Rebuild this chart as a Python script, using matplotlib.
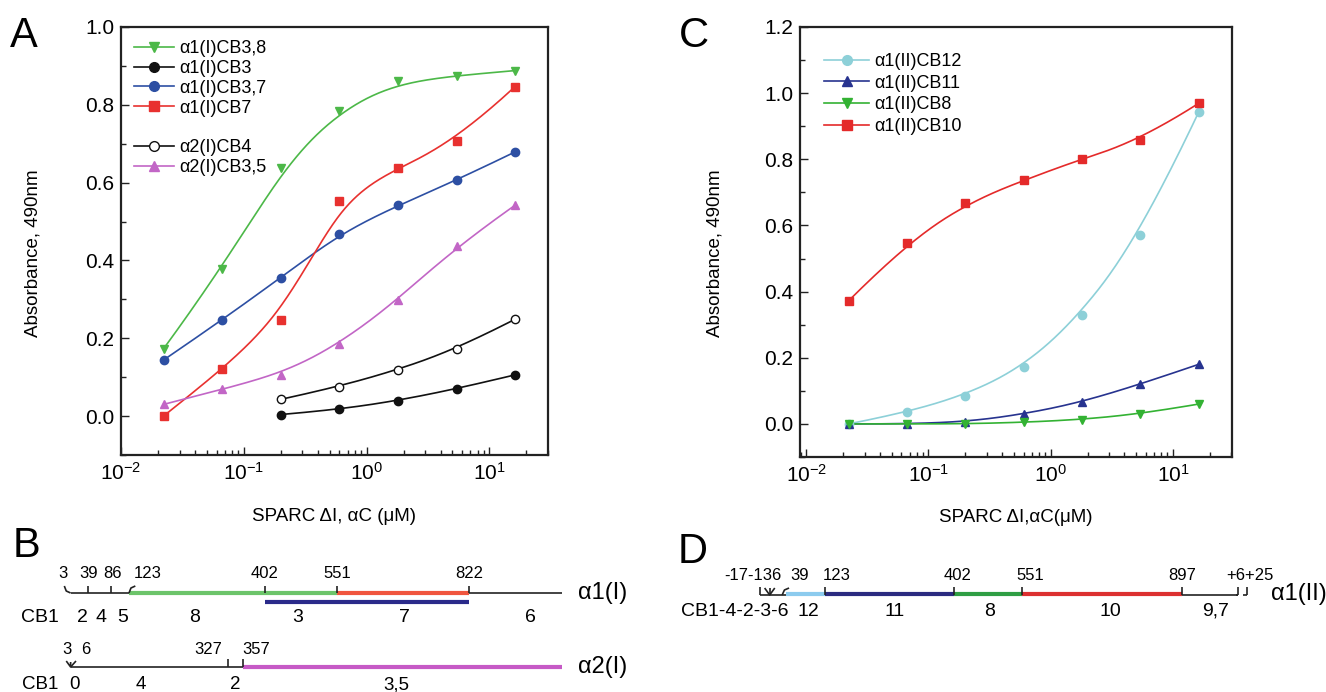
import numpy as np
import matplotlib
matplotlib.use("Agg")
import matplotlib.pyplot as plt
from matplotlib.lines import Line2D
from matplotlib.ticker import LogLocator, MultipleLocator, NullFormatter, FormatStrFormatter

plt.rcParams['font.family'] = ['Liberation Sans', 'DejaVu Sans']
plt.rcParams['mathtext.fontset'] = 'custom'
plt.rcParams['mathtext.rm'] = 'Liberation Sans'
plt.rcParams['mathtext.it'] = 'Liberation Sans:italic'
plt.rcParams['mathtext.bf'] = 'Liberation Sans:bold'

# ---------------- data ----------------
conc = [0.0222, 0.0667, 0.2, 0.6, 1.8, 5.4, 16.2]
conc_late = [0.2, 0.6, 1.8, 5.4, 16.2]

a1_cb38 = [0.173, 0.379, 0.637, 0.784, 0.860, 0.875, 0.888]
a1_cb3 = [0.004, 0.017, 0.039, 0.070, 0.106]
a1_cb37 = [0.144, 0.247, 0.356, 0.468, 0.542, 0.606, 0.679]
a1_cb7 = [0.000, 0.120, 0.246, 0.553, 0.638, 0.708, 0.847]
a2_cb4 = [0.043, 0.076, 0.118, 0.172, 0.249]
a2_cb35 = [0.030, 0.069, 0.106, 0.186, 0.298, 0.436, 0.542]

c_cb12 = [0.000, 0.035, 0.085, 0.173, 0.330, 0.570, 0.942]
c_cb11 = [0.000, 0.000, 0.005, 0.030, 0.065, 0.120, 0.180]
c_cb8 = [0.000, 0.000, 0.000, 0.005, 0.013, 0.030, 0.060]
c_cb10 = [0.372, 0.548, 0.667, 0.736, 0.802, 0.857, 0.969]

# panel B (residue numbers)
b_chain_end = 1014
b1_num_text = ["3", "39", "86", "123", "402", "551", "822"]
b1_num_pos = [-13, 40, 90, 162, 402, 551, 822]
b1_vticks = [39, 86, 402, 551, 822]
b1_green = (123, 551)
b1_red = (551, 822)
b1_blue = (402, 822)
b1_lab_text = ["CB1", "2", "4", "5", "8", "3", "7", "6"]
b1_lab_pos = [-60, 27, 66, 109, 258, 470, 690, 948]

b2_num_text = ["3", "6", "327", "357"]
b2_num_pos = [-5, 35, 285, 384]
b2_vticks = [327, 357]
b2_magenta = (357, 1014)
b2_lab_text = ["CB1", "0", "4", "2", "3,5"]
b2_lab_pos = [-60, 11, 148, 342, 672]

# panel D (residue numbers)
d_start, d_end = -17, 1039
d_segments = [(39, 123), (123, 402), (402, 551), (551, 897)]
d_seg_colors = ['#8ccbee', '#2b2b80', '#2f9e44', '#dc3030']
d_vticks = [123, 402, 551, 897, 1020, 1039]
d_num_text = ["-17-136", "39", "123", "402", "551", "897", "+6+25"]
d_num_pos = [-34, 69, 149, 411, 568, 897, 1046]
d_lab_text = ["CB1-4-2-3-6", "12", "11", "8", "10", "9,7"]
d_lab_pos = [43, 86, 273, 481, 743, 971]

W, H = 1326, 692


def bspline(x, y, degree=3, num=300):
    lx = np.log10(np.asarray(x, float))
    yy = np.asarray(y, float)
    n = len(lx)
    k = min(degree, n - 1)
    m = n - k - 1
    knots = np.concatenate([np.zeros(k + 1), np.arange(1, m + 1) / (m + 1), np.ones(k + 1)])
    t = np.linspace(0, 1, num)

    def N(i, p):
        if p == 0:
            r = ((knots[i] <= t) & (t < knots[i + 1])).astype(float)
            if knots[i + 1] == 1.0 and knots[i] < 1.0:
                r[t == 1.0] = 1.0
            return r
        out = np.zeros_like(t)
        d1 = knots[i + p] - knots[i]
        d2 = knots[i + p + 1] - knots[i + 1]
        if d1 > 0:
            out += (t - knots[i]) / d1 * N(i, p - 1)
        if d2 > 0:
            out += (knots[i + p + 1] - t) / d2 * N(i + 1, p - 1)
        return out

    B = np.array([N(i, k) for i in range(n)])
    return 10 ** (B.T @ lx), B.T @ yy


fig = plt.figure(figsize=(W / 100, H / 100), dpi=100)


def px_axes(l, r, t, b):
    return fig.add_axes([l / W, 1 - b / H, (r - l) / W, (b - t) / H])


def style_axes(ax, ylo, yhi, xlo, xhi):
    ax.set_xscale('log')
    ax.set_xlim(xlo, xhi)
    ax.set_ylim(ylo, yhi)
    ax.xaxis.set_major_locator(LogLocator(base=10, numticks=10))
    ax.xaxis.set_minor_locator(LogLocator(base=10, subs=np.arange(2, 10), numticks=20))
    ax.xaxis.set_minor_formatter(NullFormatter())
    ax.yaxis.set_major_locator(MultipleLocator(0.2))
    ax.yaxis.set_minor_locator(MultipleLocator(0.1))
    ax.yaxis.set_major_formatter(FormatStrFormatter('%.1f'))
    ax.tick_params(which='both', direction='in', top=False, right=False, labelsize=15,
                   color='#222222', width=1.0)
    ax.tick_params(which='major', length=6, pad=5)
    ax.tick_params(which='minor', length=3.5)
    for s in ax.spines.values():
        s.set_linewidth(1.6)
        s.set_color('#222222')


def series(ax, x, y, color, marker, label, mfc=None, ms=6):
    cx, cy = bspline(x, y)
    ax.plot(cx, cy, color=color, lw=1.2, zorder=2)
    ax.plot(x, y, linestyle='none', marker=marker, ms=ms, color=color,
            mfc=mfc if mfc else color, mec=color, zorder=3)
    return Line2D([], [], color=color, lw=1.2, marker=marker, ms=ms + 1,
                  mfc=mfc if mfc else color, mec=color, label=label)

# ---------------- panel A ----------------
axA = px_axes(121, 548, 27, 455)
style_axes(axA, -0.1, 1.0, 0.01, 30)
h1 = series(axA, conc, a1_cb38, '#4cb848', 'v', 'α1(I)CB3,8')
h2 = series(axA, conc_late, a1_cb3, '#111111', 'o', 'α1(I)CB3')
h3 = series(axA, conc, a1_cb37, '#2d4fa3', 'o', 'α1(I)CB3,7')
h4 = series(axA, conc, a1_cb7, '#e8312f', 's', 'α1(I)CB7', ms=5.5)
h5 = series(axA, conc_late, a2_cb4, '#111111', 'o', 'α2(I)CB4', mfc='white')
h6 = series(axA, conc, a2_cb35, '#c266c6', '^', 'α2(I)CB3,5')
blank = Line2D([], [], linestyle='none', label=' ')
axA.legend(handles=[h1, h2, h3, h4, blank, h5, h6], loc='upper left',
           bbox_to_anchor=(134 / W, 1 - 40 / H), bbox_transform=fig.transFigure,
           frameon=False, fontsize=13, labelspacing=0.16, handlelength=2.2,
           handletextpad=0.3, borderpad=0, borderaxespad=0)
axA.set_xlabel('SPARC ΔI, αC (μM)', fontsize=13.5)
axA.set_ylabel('Absorbance, 490nm', fontsize=13.5)
axA.xaxis.set_label_coords(0.5, -(508 - 455) / 428)
axA.yaxis.set_label_coords(-(121 - 41) / 427, (455 - 253) / 428)

# ---------------- panel C ----------------
axC = px_axes(800, 1232, 27, 457)
style_axes(axC, -0.1, 1.2, 0.0089, 30.4)
g1 = series(axC, conc, c_cb12, '#8dd0d8', 'o', 'α1(II)CB12')
g2 = series(axC, conc, c_cb11, '#27338f', '^', 'α1(II)CB11')
g3 = series(axC, conc, c_cb8, '#33b233', 'v', 'α1(II)CB8')
g4 = series(axC, conc, c_cb10, '#e42a2a', 's', 'α1(II)CB10', ms=5.5)
axC.legend(handles=[g1, g2, g3, g4], loc='upper left',
           bbox_to_anchor=(824 / W, 1 - 53 / H), bbox_transform=fig.transFigure,
           frameon=False, fontsize=13, labelspacing=0.26, handlelength=2.5,
           handletextpad=0.3, borderpad=0, borderaxespad=0)
axC.set_xlabel('SPARC ΔI,αC(μM)', fontsize=13.5)
axC.set_ylabel('Absorbance, 490nm', fontsize=13.5)
axC.xaxis.set_label_coords(0.5, -(509 - 457) / 430)
axC.yaxis.set_label_coords(-(800 - 724) / 432, (457 - 253) / 430)

# ---------------- panel B ----------------
b_slope = 0.4864
axB = fig.add_axes([0, 0, 680 / W, 172 / H])
axB.set_xlim(123 - 129 / b_slope, 123 + (680 - 129) / b_slope)
axB.set_ylim(692, 520)
axB.axis('off')
y1, yb, yl1 = 593, 601.5, 617
y2, yl2 = 667, 689
tick_h = 7
blk = dict(color='#222222', lw=1.2, solid_capstyle='butt')
axB.plot([3, b_chain_end], [y1, y1], **blk)
axB.plot(list(b1_green), [y1, y1], color='#6cc46a', lw=3, solid_capstyle='butt')
axB.plot(list(b1_red), [y1, y1], color='#f0553e', lw=3, solid_capstyle='butt')
axB.plot(list(b1_blue), [yb, yb], color='#2a2a8a', lw=3, solid_capstyle='butt')
for r in b1_vticks:
    axB.plot([r, r], [y1, y1 - tick_h], **blk)
axB.plot([-10, -6, 3], [y1 - tick_h, y1 - 2, y1], **blk)
axB.plot([123, 127, 136], [y1, y1 - 5, y1 - tick_h], **blk)
for s, p in zip(b1_num_text, b1_num_pos):
    axB.text(p, 573, s, fontsize=12, ha='center', va='center')
for s, p in zip(b1_lab_text, b1_lab_pos):
    axB.text(p, yl1, s, fontsize=14, ha='center', va='center')
axB.text(1047, y1, 'α1(I)', fontsize=17, ha='left', va='center')

axB.plot([3, 357], [y2, y2], **blk)
axB.plot(list(b2_magenta), [y2, y2], color='#c65ac6', lw=3, solid_capstyle='butt')
for r in b2_vticks:
    axB.plot([r, r], [y2, y2 - tick_h - 1], **blk)
axB.plot([-6, 3, 3], [y2 - 6, y2, y2 - 5], **blk)
axB.plot([3, 14], [y2, y2 - 6], **blk)
for s, p in zip(b2_num_text, b2_num_pos):
    axB.text(p, 650, s, fontsize=12, ha='center', va='center')
for s, p in zip(b2_lab_text, b2_lab_pos):
    axB.text(p, yl2, s, fontsize=13.5, ha='center', va='baseline')
axB.text(1047, y2, 'α2(I)', fontsize=17, ha='left', va='center')

# ---------------- panel D ----------------
d_slope = 0.4609
axD = fig.add_axes([680 / W, 0, (W - 680) / W, 172 / H])
axD.set_xlim(123 - (825 - 680) / d_slope, 123 + (W - 825) / d_slope)
axD.set_ylim(692, 520)
axD.axis('off')
yd = 594
axD.plot([d_start, d_segments[0][0]], [yd + 1, yd + 1], **blk)
axD.plot([d_segments[-1][1], 1020], [yd + 1, yd + 1], **blk)
for (a, b), c in zip(d_segments, d_seg_colors):
    axD.plot([a, b], [yd, yd], color=c, lw=3, solid_capstyle='butt')
for r in d_vticks:
    axD.plot([r, r], [yd + 1, yd - tick_h], **blk)
axD.plot([d_start, d_start], [yd + 1, yd - tick_h], **blk)
axD.plot([-8, 3, 14], [yd - 6, yd + 1, yd - 6], **blk)
axD.plot([3, 3], [yd + 1, yd - 6], **blk)
axD.plot([30, 35, 45], [yd + 1, yd - 4, yd - 6], **blk)
axD.plot([1014, 1020], [yd + 1, yd + 1], **blk)
axD.plot([1030, 1039], [yd + 1, yd + 1], **blk)
for s, p in zip(d_num_text, d_num_pos):
    axD.text(p, 576, s, fontsize=12, ha='center', va='center')
for s, p in zip(d_lab_text, d_lab_pos):
    ha = 'right' if s.startswith('CB1') else 'center'
    axD.text(p, 611, s, fontsize=14, ha=ha, va='center')
axD.text(1090, yd, 'α1(II)', fontsize=17, ha='left', va='center')

# ---------------- panel letters ----------------
for letter, x, y in [('A', 10, 47), ('C', 679, 47), ('B', 13, 557), ('D', 678, 563)]:
    fig.text(x / W, 1 - y / H, letter, fontsize=30, ha='left', va='baseline')

fig.savefig('out.png', dpi=100)
